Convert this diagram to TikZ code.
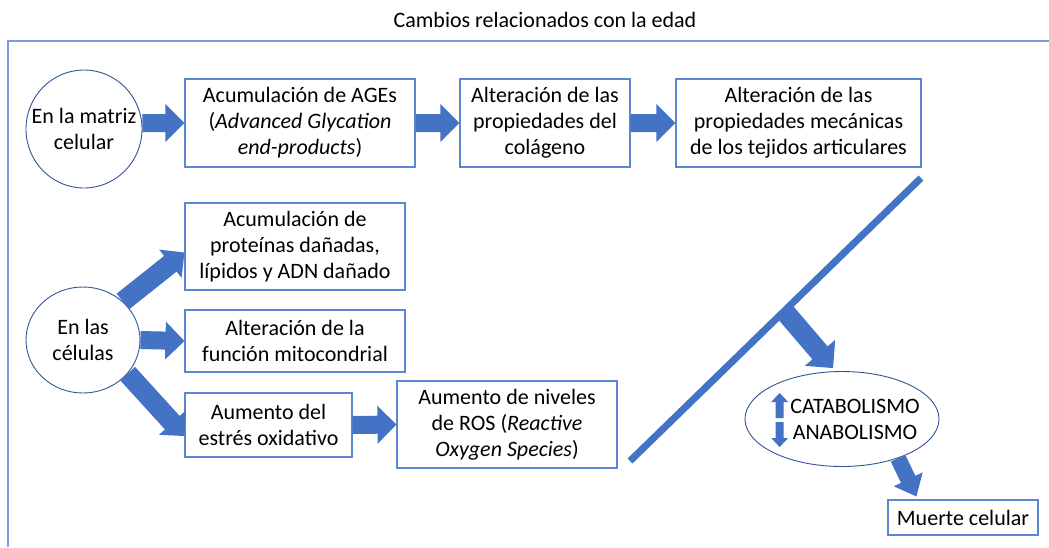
\documentclass[tikz,border=0pt]{standalone}
\usepackage{fontspec}
\setmainfont{Carlito}
\usetikzlibrary{calc,shapes.geometric}
\definecolor{arrowblue}{HTML}{4472C4}
\definecolor{boxblue}{HTML}{5B86D0}
\definecolor{circblue}{HTML}{2F5597}
\definecolor{frameblue}{HTML}{7C9DD9}
\newcommand\fs{\fontsize{22}{26}\selectfont}
% block arrow: start, end, shaft half width, head half width, head length
\newcommand\fatarrow[5]{%
\fill[arrowblue] let \p1=#1, \p2=#2, \n1={atan2(\y2-\y1,\x2-\x1)} in
 ($(\p1)+(\n1+90:#3)$) -- ($(\p2)+(\n1:-#5)+(\n1+90:#3)$) -- ($(\p2)+(\n1:-#5)+(\n1+90:#4)$) -- (\p2)
 -- ($(\p2)+(\n1:-#5)+(\n1-90:#4)$) -- ($(\p2)+(\n1:-#5)+(\n1-90:#3)$) -- ($(\p1)+(\n1-90:#3)$) -- cycle;}
\tikzset{
 box/.style={draw=boxblue, line width=1.1pt, fill=white, align=center, inner sep=0pt, font=\fs},
 circ/.style={ellipse, draw=circblue, line width=0.9pt, fill=white, inner sep=0pt},
 txt/.style={align=center, inner sep=0pt, font=\fs},
}
\begin{document}
\begin{tikzpicture}[x=1pt,y=-1pt]
\useasboundingbox (0,0) rectangle (1049,547);
% title and frame
\node[txt] (title) at (545,20) {Cambios relacionados con la edad};
\coordinate (fbl) at (8,547);
\coordinate (ftl) at (8,41);
\coordinate (ftr) at (1049,41);
\draw[frameblue, line width=1.5pt] (fbl) -- (ftl) -- (ftr);

% matrix row
\node[circ, minimum width=116, minimum height=118] (c1) at (84,129) {};
\node[txt] (t1) at (c1) {En la matriz\\celular};
\node[box, minimum width=230, minimum height=88] (b1) at (300,123) {Acumulación de AGEs\\(\textit{Advanced Glycation}\\\textit{end-products})};
\node[box, minimum width=170, minimum height=88] (b2) at (545,123) {Alteración de las\\propiedades del\\colágeno};
\node[box, minimum width=245, minimum height=88] (b3) at (798.5,123) {Alteración de las\\propiedades mecánicas\\de los tejidos articulares};

% cells
\node[circ, minimum width=114, minimum height=106] (c2) at (83,340) {};
\node[txt] (t2) at (c2) {En las\\células};
\node[box, minimum width=220, minimum height=87] (b4) at (295,246.5) {Acumulación de\\proteínas dañadas,\\lípidos y ADN dañado};
\node[box, minimum width=220, minimum height=62] (b5) at (295,341) {Alteración de la\\función mitocondrial};
\node[box, minimum width=167, minimum height=64] (b6) at (268.5,425) {Aumento del\\estrés oxidativo};
\node[box, minimum width=220, minimum height=87] (b7) at (507,424.5) {Aumento de niveles\\de ROS (\textit{Reactive}\\\textit{Oxygen Species})};

% catabolism ellipse and death
\node[circ, minimum width=194, minimum height=95] (e) at (842,419) {};
\node[txt] (etxt) at (855,419.5) {CATABOLISMO\\ANABOLISMO};
\node[box, minimum width=150, minimum height=35] (m) at (963,517.5) {Muerte celular};

% diagonal bar
\coordinate (lt) at (921,178);
\coordinate (lb) at (630,461);
\draw[arrowblue, line width=7pt] (lb) -- (lt);
\coordinate (ls) at ($(lb)!0.53!(lt)$);

% block arrows
\fatarrow{(c1.east |- b1.west)}{(b1.west)}{9pt}{19pt}{19pt}
\fatarrow{(b1.east)}{(b2.west)}{9pt}{19pt}{19pt}
\fatarrow{(b2.east)}{(b3.west)}{9pt}{19pt}{19pt}
\fatarrow{(c2.44)}{([yshift=-6pt]b4.west)}{10pt}{18pt}{18pt}
\fatarrow{(c2.east)}{(b5.west)}{9pt}{19pt}{19pt}
\fatarrow{(c2.-37)}{([yshift=-11pt]b6.west)}{10pt}{18pt}{18pt}
\fatarrow{(b6.east)}{(b7.west)}{9pt}{19pt}{19pt}
\fatarrow{(ls)}{([xshift=-9pt,yshift=3pt]e.north)}{10pt}{20pt}{20pt}
\fatarrow{(e.-35)}{([xshift=29pt,yshift=3pt]m.north west)}{8pt}{16pt}{19pt}

% up / down markers
\fatarrow{($(etxt.west)+(-10.5,-1.5)$)}{($(etxt.west)+(-10.5,-26.5)$)}{4pt}{8.5pt}{9pt}
\fatarrow{($(etxt.west)+(-10.5,2.5)$)}{($(etxt.west)+(-10.5,27.5)$)}{4pt}{8.5pt}{9pt}
\end{tikzpicture}
\end{document}
